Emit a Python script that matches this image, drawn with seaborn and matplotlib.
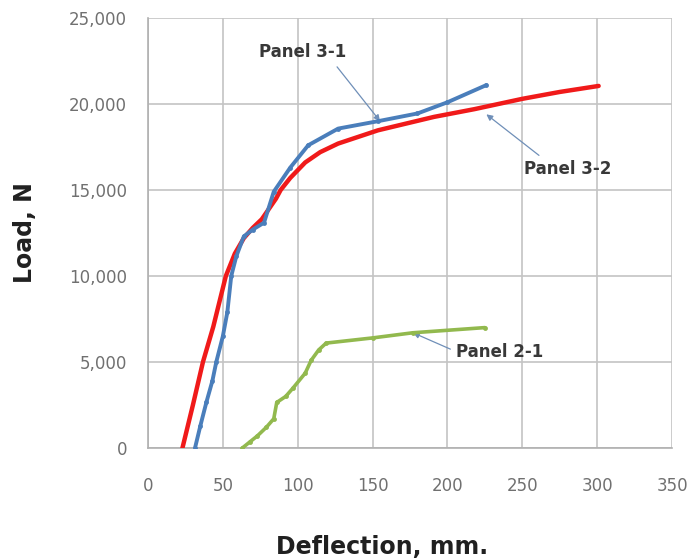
import matplotlib
matplotlib.use("Agg")
import matplotlib.pyplot as plt
import seaborn as sns
import pandas as pd
from matplotlib.ticker import FuncFormatter

# Panel 3-1 (blue)
p31_x = [31.4, 35, 39, 43, 45.6, 50, 53, 55.6, 59, 64, 70, 77.5, 84, 95, 107, 127, 153.6, 180, 200, 226]
p31_y = [0, 1300, 2660, 3900, 5000, 6500, 7900, 10000, 11150, 12300, 12700, 13100, 14900, 16300, 17600, 18570, 19000, 19450, 20100, 21100]
# Panel 3-2 (red)
p32_x = [23, 30, 36.7, 43.6, 52, 58, 64, 70, 76, 85.5, 88.6, 95, 105, 115, 127, 153.6, 191, 218, 250, 275, 301]
p32_y = [0, 2500, 5000, 7050, 10000, 11300, 12200, 12800, 13300, 14500, 15000, 15700, 16600, 17200, 17700, 18470, 19250, 19700, 20300, 20700, 21050]
# Panel 2-1 (green)
p21_x = [63, 68, 73, 79, 84, 86, 92, 97, 105, 109, 114, 119, 150, 177, 225]
p21_y = [0, 350, 700, 1200, 1700, 2650, 3000, 3500, 4350, 5100, 5700, 6100, 6400, 6700, 7000]

x_ticks = [0, 50, 100, 150, 200, 250, 300, 350]
y_ticks = [0, 5000, 10000, 15000, 20000, 25000]

sns.set_style("white")
plt.rcParams['font.family'] = ['DejaVu Sans']

W, H = 693, 560
fig = plt.figure(figsize=(W / 100, H / 100), dpi=100)
ax = fig.add_axes([148 / W, 1 - 448 / H, (672 - 148) / W, (448 - 18) / H])

blue = "#4A7EBB"
red = "#F01A1A"
green = "#92B94E"

df31 = pd.DataFrame({"x": p31_x, "y": p31_y})
df32 = pd.DataFrame({"x": p32_x, "y": p32_y})
df21 = pd.DataFrame({"x": p21_x, "y": p21_y})

sns.lineplot(data=df32, x="x", y="y", ax=ax, color=red, linewidth=3.2, sort=False, zorder=3)
sns.lineplot(data=df31, x="x", y="y", ax=ax, color=blue, linewidth=2.8, marker="o",
             markersize=3.5, markeredgewidth=0, sort=False, zorder=4)
sns.lineplot(data=df21, x="x", y="y", ax=ax, color=green, linewidth=2.6, marker="o",
             markersize=3.5, markeredgewidth=0, sort=False, zorder=4)

ax.set_xlim(0, 350)
ax.set_ylim(0, 25000)
ax.set_xticks(x_ticks)
ax.set_yticks(y_ticks)
ax.yaxis.set_major_formatter(FuncFormatter(lambda v, p: f"{int(v):,}"))
ax.grid(True, color="#c4c4c4", linewidth=1.2)
ax.set_axisbelow(True)
for s in ["top", "right"]:
    ax.spines[s].set_visible(False)
for s in ["left", "bottom"]:
    ax.spines[s].set_color("#b0b0b0")
    ax.spines[s].set_linewidth(1.2)
ax.tick_params(axis="both", which="both", length=5, color="#b0b0b0",
               labelcolor="#707070", labelsize=12, direction="out")
ax.tick_params(axis="x", pad=16)
ax.tick_params(axis="y", pad=10)
ax.set_xlabel("")
ax.set_ylabel("")

fig.text(382 / W, 1 - 547 / H, "Deflection, mm.", ha="center", va="center",
         fontsize=17, fontweight="bold", color="#202020")
fig.text(25 / W, 1 - 233 / H, "Load, N", ha="center", va="center", rotation=90,
         fontsize=17, fontweight="bold", color="#202020")

arrow = dict(arrowstyle="-|>", color="#6f8fb8", lw=0.9, mutation_scale=9)
tkw = dict(fontsize=12, fontweight="bold", color="#383838", ha="center", va="center")
ax.annotate("Panel 3-1", xy=(155, 19000), xytext=(103, 23000),
            arrowprops=dict(arrow, shrinkA=2, shrinkB=0, relpos=(0.85, 0.0)), **tkw)
ax.annotate("Panel 3-2", xy=(226, 19400), xytext=(280, 16200),
            arrowprops=dict(arrow, shrinkA=2, shrinkB=0, relpos=(0.25, 1.0)), **tkw)
ax.annotate("Panel 2-1", xy=(177, 6700), xytext=(235, 5600),
            arrowprops=dict(arrow, shrinkA=2, shrinkB=0, relpos=(0.0, 0.5)), **tkw)

fig.savefig("out.png", dpi=100)
